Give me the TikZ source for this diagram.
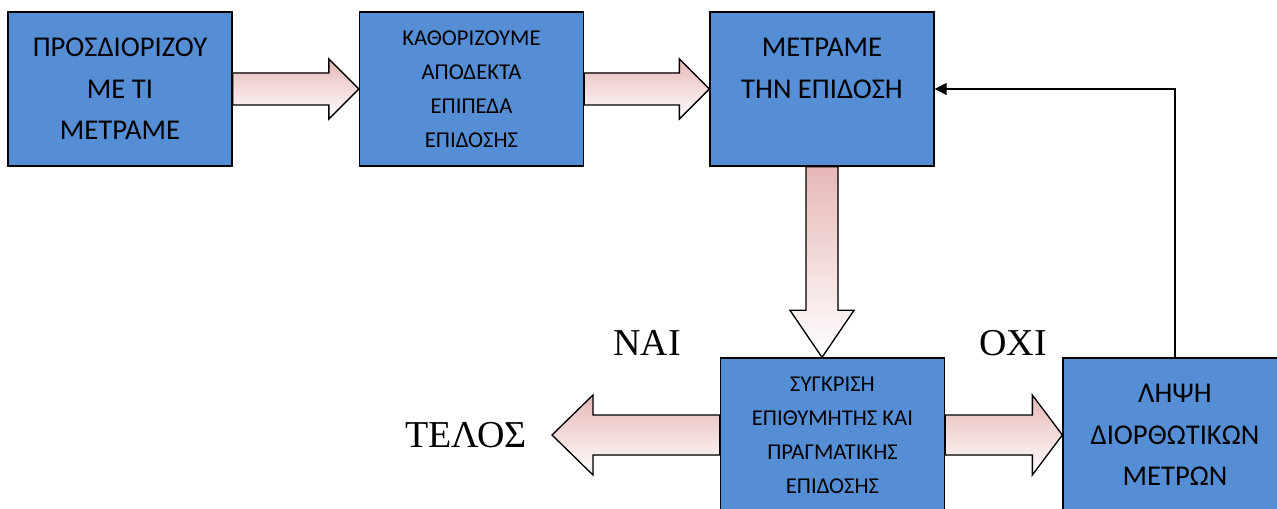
\documentclass[tikz,border=0pt]{standalone}
\usepackage{fontspec}
\setmainfont{Liberation Serif}
\newfontfamily\boxFont{Carlito}
\usetikzlibrary{calc,arrows.meta}
\definecolor{boxColor}{RGB}{85,142,213}
\definecolor{arrowPink}{RGB}{230,184,183}
\tikzstyle{diagram} = [x = .75pt, y = -.75pt]
\tikzstyle{blockStyle} = [draw=black, fill=boxColor, line width=1pt, minimum width=168pt, minimum height=115.5pt, align=center, inner sep=0pt]
\tikzstyle{bigText} = [font=\boxFont\fontsize{21.5}{31}\selectfont]
\tikzstyle{smallText} = [font=\boxFont\fontsize{17}{25.5}\selectfont]
\tikzstyle{serifText} = [font=\fontsize{28.5}{34}\selectfont]
\tikzstyle{arrowStyle} = [draw=black, line width=1pt, top color=arrowPink, bottom color=white]
\tikzstyle{feedbackLine} = [draw=black, line width=1pt, -{Triangle[length=9pt,width=9pt]}]
\newcommand{\rightBlockArrow}[5]{\filldraw [arrowStyle] ($(#1)+(0,-#3)$) -- ($(#2)+(-#5,-#3)$) -- ($(#2)+(-#5,-#4)$) -- (#2) -- ($(#2)+(-#5,#4)$) -- ($(#2)+(-#5,#3)$) -- ($(#1)+(0,#3)$) -- cycle;}
\newcommand{\leftBlockArrow}[5]{\filldraw [arrowStyle] ($(#1)+(0,-#3)$) -- ($(#2)+(#5,-#3)$) -- ($(#2)+(#5,-#4)$) -- (#2) -- ($(#2)+(#5,#4)$) -- ($(#2)+(#5,#3)$) -- ($(#1)+(0,#3)$) -- cycle;}
\newcommand{\downBlockArrow}[5]{\filldraw [arrowStyle] ($(#1)+(-#3,0)$) -- ($(#2)+(-#3,-#5)$) -- ($(#2)+(-#4,-#5)$) -- (#2) -- ($(#2)+(#4,-#5)$) -- ($(#2)+(#3,-#5)$) -- ($(#1)+(#3,0)$) -- cycle;}

\begin{document}
\begin{tikzpicture}[diagram]
          \useasboundingbox (0,0) rectangle (1277,509);
          % top row
          \node [blockStyle, bigText] (define) at (120,89) {ΠΡΟΣΔΙΟΡΙΖΟΥ\\ΜΕ ΤΙ\\ΜΕΤΡΑΜΕ};
          \node [blockStyle, smallText] (levels) at (471.5,89) {ΚΑΘΟΡΙΖΟΥΜΕ\\ΑΠΟΔΕΚΤΑ\\ΕΠΙΠΕΔΑ\\ΕΠΙΔΟΣΗΣ};
          \node [blockStyle, bigText] (measure) at (822,89) {ΜΕΤΡΑΜΕ\\ΤΗΝ ΕΠΙΔΟΣΗ\\~};
          % bottom row
          \node [blockStyle, smallText] (compare) at (832.5,435) {ΣΥΓΚΡΙΣΗ\\ΕΠΙΘΥΜΗΤΗΣ ΚΑΙ\\ΠΡΑΓΜΑΤΙΚΗΣ\\ΕΠΙΔΟΣΗΣ};
          \node [blockStyle, bigText] (correct) at (1175,435) {ΛΗΨΗ\\ΔΙΟΡΘΩΤΙΚΩΝ\\ΜΕΤΡΩΝ};

          \coordinate (endTip) at (552,435);
          \node [serifText] (endLabel) at (466,435) {ΤΕΛΟΣ};
          \node [serifText] (yesLabel) at (647,343) {ΝΑΙ};
          \node [serifText] (noLabel) at (1013,343) {ΟΧΙ};

          \rightBlockArrow{define.east}{levels.west}{16}{30}{30}
          \rightBlockArrow{levels.east}{measure.west}{16}{30}{30}
          \downBlockArrow{measure.south}{measure.south |- compare.north}{16}{32}{47}
          \leftBlockArrow{compare.west}{endTip}{20}{40}{41}
          \rightBlockArrow{compare.east}{correct.west}{20}{40}{30}

          \draw [feedbackLine] (correct.north) |- (measure.east);
        \end{tikzpicture}
\end{document}
